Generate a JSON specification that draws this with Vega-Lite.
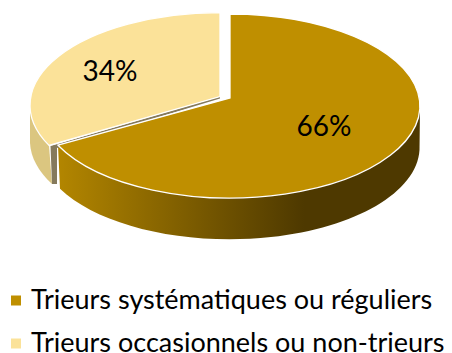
{"$schema":"https://vega.github.io/schema/vega-lite/v6.json","width":452,"height":353,"padding":0,"autosize":{"type":"none"},"background":"white","config":{"view":{"stroke":null}},"data":{"values":[{"category":"Trieurs systématiques ou réguliers","share":0.66},{"category":"Trieurs occasionnels ou non-trieurs","share":0.34}]},"layer":[{"transform":[{"filter":"datum.share>0.5"}],"mark":{"type":"point","filled":true,"opacity":1,"size":4,"strokeWidth":0,"shape":"M-168 -31.3 L-166 12.3 A190 92 0 0 0 193.5 -26.5 L194 -69 L4 -30 Z","fill":{"gradient":"linear","x1":0,"x2":1,"y1":0,"y2":0,"stops":[{"offset":0,"color":"#B38600"},{"offset":0.45,"color":"#6F5200"},{"offset":0.68,"color":"#4E3900"},{"offset":1,"color":"#4E3900"}]}},"encoding":{}},{"transform":[{"filter":"datum.share<0.5"}],"mark":{"type":"point","filled":true,"opacity":1,"size":4,"strokeWidth":0,"shape":"M-196 -71.5 L-196 -33.5 A190 92.5 0 0 0 -174 7.5 L-177 -31 Z","fill":"#DBC680"},"encoding":{}},{"transform":[{"filter":"datum.share<0.5"}],"mark":{"type":"point","filled":true,"opacity":1,"size":4,"strokeWidth":0,"shape":"M-175.5 -30.5 L-6 -80 L-6 -78 L-169 -28.5 L-169 7.5 L-174 7.5 Z","fill":"#857A5C"},"encoding":{}},{"transform":[{"filter":"datum.share<0.5"}],"mark":{"type":"point","filled":true,"opacity":1,"size":4,"stroke":"white","strokeWidth":1.3,"shape":"M-6 -80 L-6 -163.9 A190 92.5 0 0 0 -177 -31.1 Z"},"encoding":{"color":{"field":"category","type":"nominal","scale":{"domain":["Trieurs systématiques ou réguliers","Trieurs occasionnels ou non-trieurs"],"range":["#BF8F00","#FBE299"]},"legend":{"title":null,"orient":"none","legendX":2.5,"legendY":287,"columns":1,"symbolType":"square","symbolSize":100,"symbolStrokeWidth":0,"symbolOpacity":1,"labelFont":"Lato","labelFontSize":27,"labelColor":"#000000","labelLimit":450,"labelOffset":1.5,"rowPadding":15}}}},{"transform":[{"filter":"datum.share>0.5"}],"mark":{"type":"point","filled":true,"opacity":1,"size":4,"stroke":"white","strokeWidth":1.3,"shape":"M4 -78.5 L4 -162.5 A190 92 0 1 1 -168 -31.3 Z"},"encoding":{"color":{"field":"category","type":"nominal","scale":{"domain":["Trieurs systématiques ou réguliers","Trieurs occasionnels ou non-trieurs"],"range":["#BF8F00","#FBE299"]},"legend":{"title":null,"orient":"none","legendX":2.5,"legendY":287,"columns":1,"symbolType":"square","symbolSize":100,"symbolStrokeWidth":0,"symbolOpacity":1,"labelFont":"Lato","labelFontSize":27,"labelColor":"#000000","labelLimit":450,"labelOffset":1.5,"rowPadding":15}}}},{"transform":[{"filter":"datum.share>0.5"}],"mark":{"type":"text","font":"Lato","fontSize":28,"color":"#000000","align":"center","baseline":"middle","dx":98,"dy":-49},"encoding":{"text":{"field":"share","type":"quantitative","format":".0%"}}},{"transform":[{"filter":"datum.share<0.5"}],"mark":{"type":"text","font":"Lato","fontSize":28,"color":"#000000","align":"center","baseline":"middle","dx":-116,"dy":-104},"encoding":{"text":{"field":"share","type":"quantitative","format":".0%"}}}]}
